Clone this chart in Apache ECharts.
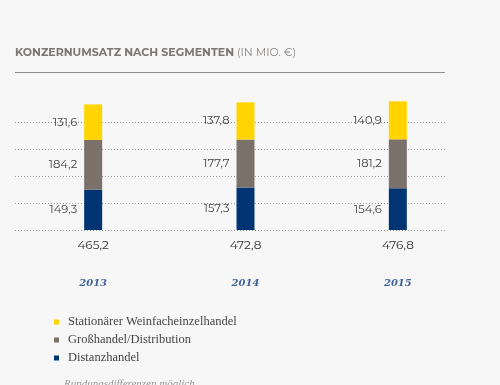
<!DOCTYPE html>
<html>
<head>
<meta charset="utf-8">
<script src="https://cdn.jsdelivr.net/npm/echarts@6/dist/echarts.min.js"></script>
<style>
html,body{margin:0;padding:0;background:#f7f7f7;}
#c{width:500px;height:385px;}
</style>
</head>
<body>
<div id="c"></div>
<script>
const years = ['2013', '2014', '2015'];
const distanz = [149.3, 157.3, 154.6];
const gross = [184.2, 177.7, 181.2];
const stationaer = [131.6, 137.8, 140.9];
const totals = [465.2, 472.8, 476.8];
const seriesNames = ['Stationärer Weinfacheinzelhandel', 'Großhandel/Distribution', 'Distanzhandel'];
const yTicks = [0, 100, 200, 300, 400, 500];

const fmt = v => Number(v).toFixed(1).replace('.', ',');
const numFont = 'Montserrat, "Open Sans", Lato, sans-serif';

const chart = echarts.init(document.getElementById('c'), null, {renderer: 'canvas'});

function seg(name, data, color) {
  return {
    name: name, type: 'bar', stack: 'total', data: data,
    xAxisIndex: 1, yAxisIndex: 1,
    barWidth: 18,
    itemStyle: {color: color},
    label: {
      show: true, position: 'left', distance: 7,
      formatter: p => fmt(p.value),
      color: '#444', fontSize: 11.5, fontFamily: numFont
    },
    emphasis: {disabled: true}
  };
}

chart.setOption({
  backgroundColor: '#f7f7f7',
  animation: false,
  graphic: [
    {type: 'text', left: 15, top: 47, style: {
      rich: {
        b: {fontWeight: 'bold', fontSize: 11, fill: '#7b7773', fontFamily: numFont},
        n: {fontSize: 11, fill: '#8a8683', fontFamily: numFont}
      },
      text: '{b|KONZERNUMSATZ NACH SEGMENTEN}{n| (IN MIO. €)}'
    }},
    {type: 'line', shape: {x1: 15, y1: 72.5, x2: 445, y2: 72.5}, style: {stroke: '#8c8c8c', lineWidth: 1}},
    {type: 'text', left: 64, top: 379, style: {
      text: 'Rundungsdifferenzen möglich', fill: '#999', fontSize: 11,
      fontStyle: 'italic', fontFamily: '"Liberation Serif", serif'
    }}
  ],
  legend: {
    orient: 'vertical', left: 49, top: 310,
    data: seriesNames,
    itemWidth: 5, itemHeight: 5, itemGap: 4,
    icon: 'rect',
    selectedMode: false,
    textStyle: {color: '#444', fontSize: 12.5, fontFamily: '"Liberation Serif", serif', lineHeight: 14, padding: [0, 0, 0, 4]}
  },
  grid: [
    {left: 15, right: 53, top: 95, bottom: 155},
    {left: 17, right: 26, top: 95, bottom: 155}
  ],
  xAxis: [
    {gridIndex: 0, type: 'value', show: false, min: 0, max: 1},
    {gridIndex: 1, type: 'category', data: years,
      axisLine: {show: false}, axisTick: {show: false},
      axisLabel: {margin: 9, formatter: (v, i) => fmt(totals[i]), color: '#333', fontSize: 12, fontFamily: numFont}},
    {gridIndex: 1, type: 'category', data: years, position: 'bottom',
      axisLine: {show: false}, axisTick: {show: false},
      axisLabel: {margin: 48, color: '#42609a', fontSize: 10, fontWeight: 'bold', fontStyle: 'italic', fontFamily: '"DejaVu Serif", serif'}}
  ],
  yAxis: [
    {gridIndex: 0, type: 'value', min: yTicks[0], max: yTicks[yTicks.length - 1], interval: 100,
      axisLine: {show: false}, axisTick: {show: false}, axisLabel: {show: false},
      splitLine: {show: true, showMaxLine: false, lineStyle: {type: [1, 2], color: '#9a9a9a', width: 1}}},
    {gridIndex: 1, type: 'value', min: yTicks[0], max: yTicks[yTicks.length - 1], interval: 100,
      show: false, splitLine: {show: false}}
  ],
  series: [
    {type: 'line', xAxisIndex: 0, yAxisIndex: 0, data: [], silent: true},
    seg(seriesNames[2], distanz, '#003473'),
    seg(seriesNames[1], gross, '#7a716b'),
    seg(seriesNames[0], stationaer, '#ffd400')
  ]
});
</script>
</body>
</html>
